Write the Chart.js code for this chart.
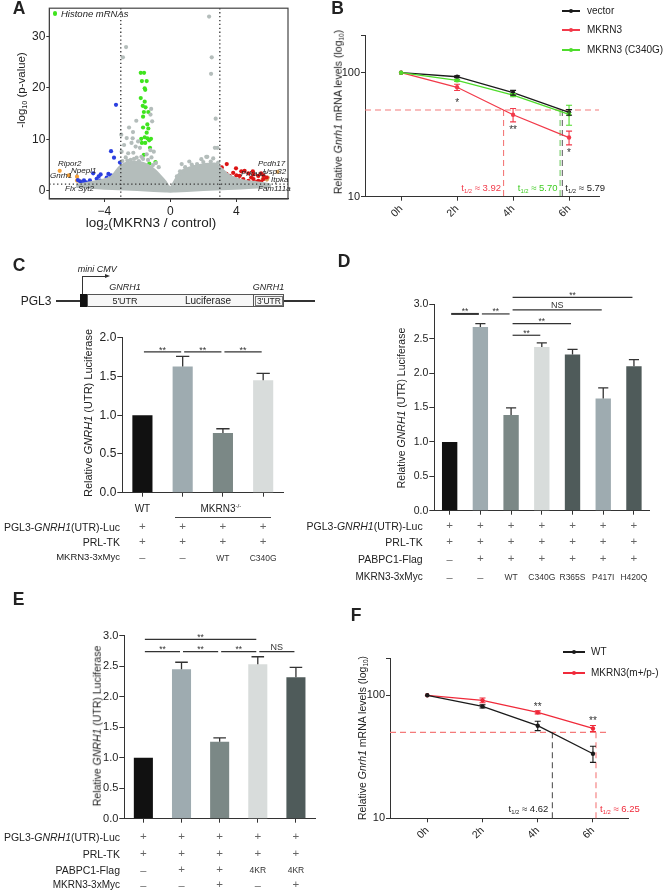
<!DOCTYPE html>
<html><head><meta charset="utf-8">
<script src="https://cdn.jsdelivr.net/npm/chart.js@4.4.1/dist/chart.umd.min.js"></script>
<style>
html,body{margin:0;padding:0;background:#fff;}
#root{position:relative;width:663px;height:890px;overflow:hidden;font-family:"Liberation Sans",Arial,Helvetica,sans-serif;color:#222;}
#root canvas{position:absolute;left:0;top:0;}
.t{position:absolute;white-space:nowrap;line-height:1;z-index:3;}
.s{font-size:0.62em;line-height:0;vertical-align:-0.3em;}
.u{font-size:0.62em;line-height:0;vertical-align:0.6em;}
.bx{position:absolute;box-sizing:border-box;z-index:2;}
</style></head>
<body><div id="root"></div>
<script>
// ================= DATA =================
// Panel A - volcano plot (x = log2 fold change, y = -log10 p)
const volcanoCloudUpper = [[-5.7,1.1],[-4.8,1.6],[-3.6,2.6],[-3.0,4.8],[-2.4,5.5],[-1.6,5.3],[-0.95,4.0],[-0.35,1.9],[0,0.6],[0.3,2.0],[0.7,3.8],[1.7,4.9],[2.7,5.2],[3.0,4.5],[3.6,2.9],[4.5,1.9],[5.5,1.5],[6.0,1.2]];
const volcanoCloudLower = [[6.0,0.9],[5.0,0.7],[3.5,0.45],[2.0,0.25],[1.0,0.1],[0.3,0],[0,-0.05],[-0.3,0],[-1.0,0.1],[-2.0,0.25],[-3.5,0.45],[-5.0,0.7],[-5.7,0.9]];
const volcanoGray = [[2.35,33.8],[-2.68,27.9],[-2.87,25.9],[2.51,25.9],[2.47,22.7],[2.75,14.0],[2.85,8.35],[-2.06,13.6],[-2.5,12.3],[-2.26,11.4],[-2.64,10.25],[-2.97,10.9],[-2.8,8.9],[-2.28,10.2],[-1.16,15.9],[-1.2,14.8],[-1.1,13.5],[-2.24,7.4],[-2.7,6.5],[-2.04,6.45],[-1.84,8.35],[-1.43,7.1],[-1.14,6.5],[-0.87,5.4],[-2.4,6.0],[-1.65,6.2],[-1.9,5.8],[-2.95,7.6],[-2.9,5.8],[-2.6,5.9],[-2.2,6.2],[-1.75,6.6],[-1.35,6.0],[-1.05,5.0],[-2.55,7.3],[-2.1,8.6],[-1.95,9.6],[-2.35,9.3],[-1.0,7.6],[-1.2,7.9],[-0.7,4.6],[0.59,3.8],[1.15,5.7],[1.62,5.2],[1.88,6.15],[2.18,6.6],[2.45,5.7],[2.6,6.3],[1.7,4.4],[2.1,4.9],[2.75,5.0],[0.69,5.2],[1.4,4.6],[2.7,8.35],[2.24,6.6],[0.9,4.6],[1.3,5.1],[2.0,5.6],[2.9,5.5],[2.3,4.8],[1.0,3.9],[0.4,2.8]];
const volcanoHistone = [[-1.79,22.9],[-1.59,22.9],[-1.72,21.3],[-1.43,21.3],[-1.55,19.9],[-1.52,19.6],[-1.79,18.0],[-1.55,17.3],[-1.67,16.5],[-1.5,16.2],[-1.33,15.3],[-1.6,15.3],[-1.65,14.4],[-1.39,12.9],[-1.65,12.3],[-1.33,12.1],[-1.43,11.3],[-1.55,10.4],[-1.39,10.2],[-1.76,10.1],[-1.17,10.1],[-1.72,9.3],[-1.52,9.3],[-1.28,9.8],[-1.23,8.35],[-0.9,5.6],[-1.27,5.3],[-1.6,7.0]];
const volcanoDown = [[-3.29,16.7],[-3.59,7.7],[-3.41,6.45],[-3.05,5.5],[-4.67,3.4],[-4.22,3.2],[-3.59,3.0],[-3.85,2.6],[-3.35,2.35],[-3.13,2.6],[-4.46,2.35],[-4.87,2.03],[-5.23,2.03],[-5.47,1.85],[-5.1,1.65],[-4.76,1.5],[-4.25,2.0],[-3.94,2.0],[-3.68,1.7],[-3.43,1.7],[-3.2,1.9],[-4.05,1.3],[-4.5,1.4],[-4.95,1.4],[-5.3,1.45],[-3.02,2.0],[-4.34,2.8],[-3.75,3.3],[-5.6,2.1],[-3.1,3.3]];
const volcanoUp = [[3.42,5.2],[3.12,4.55],[3.98,4.37],[4.3,3.8],[3.81,3.5],[3.12,3.4],[4.73,3.4],[3.6,2.9],[4.2,2.9],[5.04,3.2],[5.33,2.9],[5.64,3.0],[3.22,2.3],[3.52,2.15],[3.82,2.4],[4.12,2.15],[4.42,2.3],[4.73,1.95],[5.04,2.3],[5.33,1.95],[5.64,2.3],[5.84,2.6],[3.12,1.8],[3.42,1.7],[3.72,1.7],[4.02,1.55],[4.3,1.7],[4.6,1.6],[4.9,1.55],[5.2,1.7],[3.15,2.8],[3.4,3.3],[4.5,3.9],[5.0,3.8],[5.5,3.4],[4.9,2.6],[4.0,3.0],[3.3,1.45],[5.5,1.8]];
const volcanoDownLabeled = [[-6.7,3.9],[-6.15,3.0],[-5.65,2.75],[-5.65,2.0],[-5.45,1.8]];
const volcanoUpLabeled = [[6.5,3.7],[5.9,2.6],[5.75,2.45],[5.6,2.3],[5.85,2.2]];
const volcanoXTicks = [-4,0,4];
const volcanoYTicks = [0,10,20,30];
const volcanoFoldCut = 3;
const volcanoPCut = 1.3;

// Panel B - Gnrh1 mRNA decay
const timeHours = [0,2,4,6];
const bVector = [100,92.8,69,47.9];     const bVectorErr = [0,1.5,3,2.5];
const bMKRN3 = [100,76.3,45.8,30];      const bMKRN3Err = [0,4.5,5.7,3.8];
const bC340G = [100,86.7,66,46.2];      const bC340GErr = [0,1.5,2,8.5];
const bStars = ['','*','**','*'];
const bHalfLife = ['3.92','5.70','5.79'];
const bHalfCross = [3.66,5.68,5.76];
const logTicks = [10,100,200];

// Panel C
const cCategories = ['WT','KO','KO+WT','KO+C340G'];
const cValues = [1.0,1.63,0.77,1.45];
const cErr = [0,0.13,0.055,0.09];
const cTicks = [0,0.5,1,1.5,2];
const cSig = [[0,1,1.817,'**'],[1,2,1.817,'**'],[2,3,1.817,'**']];
const cRowLabels = ['PGL3-<i>GNRH1</i>(UTR)-Luc','PRL-TK','MKRN3-3xMyc'];
const cTable = [['+','+','+','+'],['+','+','+','+'],['–','–','WT','C340G']];

// Panel D
const dCategories = ['ctrl','PABPC1','WT','C340G','R365S','P417I','H420Q'];
const dValues = [1.0,2.67,1.39,2.38,2.27,1.63,2.10];
const dErr = [0,0.05,0.105,0.06,0.075,0.155,0.095];
const dTicks = [0,0.5,1,1.5,2,2.5,3];
const dSig = [[0,1,2.86,'**',2],[1,2,2.86,'**'],[2,6,3.10,'**'],[2,5,2.92,'NS'],[2,4,2.72,'**'],[2,3,2.55,'**']];
const dRowLabels = ['PGL3-<i>GNRH1</i>(UTR)-Luc','PRL-TK','PABPC1-Flag','MKRN3-3xMyc'];
const dTable = [['+','+','+','+','+','+','+'],['+','+','+','+','+','+','+'],['–','+','+','+','+','+','+'],['–','–','WT','C340G','R365S','P417I','H420Q']];

// Panel E
const eCategories = ['ctrl','PABPC1','PABPC1+MKRN3','4KR','4KR+MKRN3'];
const eValues = [1.0,2.45,1.26,2.53,2.32];
const eErr = [0,0.115,0.065,0.125,0.16];
const eTicks = [0,0.5,1,1.5,2,2.5,3];
const eSig = [[0,1,2.74,'**'],[1,2,2.74,'**'],[2,3,2.74,'**'],[3,4,2.74,'NS'],[0,3,2.94,'**']];
const eRowLabels = ['PGL3-<i>GNRH1</i>(UTR)-Luc','PRL-TK','PABPC1-Flag','MKRN3-3xMyc'];
const eTable = [['+','+','+','+','+'],['+','+','+','+','+'],['–','+','+','4KR','4KR'],['–','–','+','–','+']];

// Panel F
const fWT = [100,81.3,56.6,33.5];   const fWTErr = [0,2.5,5,5];
const fMut = [100,91,72.7,53.8];    const fMutErr = [0,4,2,3];
const fStars = ['','','**','**'];
const fHalfLife = ['4.62','6.25'];
const fHalfCross = [4.53,6.11];

const barColors5 = ['#111111','#9eabb0','#7b8886','#d8dcdb','#4f5b5a'];
const dColors = ['#111111','#9eabb0','#7b8886','#d8dcdb','#4f5b5a','#9eabb0','#4f5b5a'];

// ================= HELPERS =================
const W=663,H=890,AX='#333';
const root=document.getElementById('root');
Chart.defaults.font.family='"Liberation Sans", Arial, sans-serif';
Chart.defaults.color='#222';

function makeChart(cfg){const c=document.createElement('canvas');c.width=W;c.height=H;c.style.width=W+'px';c.style.height=H+'px';root.appendChild(c);return new Chart(c,cfg);}
function T(html,x,y,o={}){
  const d=document.createElement('div');d.className='t';d.innerHTML=html;
  d.style.fontSize=(o.size||10)+'px';
  if(o.color)d.style.color=o.color;
  if(o.bold)d.style.fontWeight='bold';
  if(o.italic)d.style.fontStyle='italic';
  d.style.left=x+'px';d.style.top=y+'px';
  const a=o.align||'center';
  const tx=a==='left'?'0':a==='right'?'-100%':'-50%';
  d.style.transform=o.rot?`translate(-50%,-50%) rotate(${o.rot}deg)`:`translate(${tx},-50%)`;
  root.appendChild(d);return d;
}
function B(x,y,w,h,css){const d=document.createElement('div');d.className='bx';d.style.cssText+=`left:${x}px;top:${y}px;width:${w}px;height:${h}px;`+css;root.appendChild(d);return d;}
function pts(a){return a.map(p=>({x:p[0],y:p[1]}));}
function base(L,T0,R,Bt,xh,scales){
  return {responsive:false,animation:false,devicePixelRatio:1,events:[],
    layout:{padding:{left:0,top:T0,right:W-R,bottom:H-Bt-xh}},
    plugins:{legend:{display:false},tooltip:{enabled:false}},scales};
}
function axisY(width,min,max,ticksArr,fmt,size,type,tickLen){
  return {type:type||'linear',position:'left',min,max,
    border:{display:true,color:AX,width:1},
    grid:{display:true,drawOnChartArea:false,drawTicks:true,tickLength:tickLen||5,color:AX,lineWidth:1},
    ticks:{autoSkip:false,padding:1,color:'#222',font:{size},callback:fmt},
    afterBuildTicks:s=>{s.ticks=ticksArr.map(v=>({value:v}));},
    afterFit:s=>{s.width=width;}};
}
function axisX(height,min,max,ticksArr,fmt,size,rot,tickLen){
  return {type:'linear',position:'bottom',min,max,
    border:{display:true,color:AX,width:1},
    grid:{display:true,drawOnChartArea:false,drawTicks:true,tickLength:tickLen||4,color:AX,lineWidth:1},
    ticks:{autoSkip:false,padding:2,color:'#222',font:{size},callback:fmt,minRotation:rot||0,maxRotation:rot||0},
    afterBuildTicks:s=>{s.ticks=ticksArr.map(v=>({value:v}));},
    afterFit:s=>{s.height=height;}};
}
function axisCat(height){
  return {type:'category',position:'bottom',offset:true,
    border:{display:true,color:AX,width:1},
    grid:{display:true,offset:false,drawOnChartArea:false,drawTicks:true,tickLength:4,color:AX,lineWidth:1},
    ticks:{autoSkip:false,callback:()=>'',font:{size:2}},
    afterFit:s=>{s.height=height;}};
}
function textAt(ctx,str,x,cy,size,color,kind){
  ctx.save();ctx.font=size+'px "Liberation Sans", Arial, sans-serif';ctx.fillStyle=color||'#333';ctx.textAlign='center';ctx.textBaseline='alphabetic';
  const k=kind==='star'?0.57:0.36;
  ctx.fillText(str,x,cy+k*size);ctx.restore();
}
const barErrPlugin=(errs)=>({id:'barerr',afterDatasetsDraw(chart){
  const ctx=chart.ctx,meta=chart.getDatasetMeta(0),ys=chart.scales.y,vals=chart.data.datasets[0].data;
  ctx.save();ctx.strokeStyle='#333';ctx.lineWidth=1.3;
  meta.data.forEach((bar,i)=>{const e=errs[i];if(!e)return;
    const yt=ys.getPixelForValue(vals[i]+e),yb=ys.getPixelForValue(vals[i]);const cw=bar.width*0.33;
    ctx.beginPath();ctx.moveTo(bar.x,yb);ctx.lineTo(bar.x,yt);ctx.moveTo(bar.x-cw,yt);ctx.lineTo(bar.x+cw,yt);ctx.stroke();});
  ctx.restore();}});
const sigPlugin=(sigs,size)=>({id:'sig',afterDraw(chart){
  const ctx=chart.ctx,xs=chart.scales.x,ys=chart.scales.y;
  sigs.forEach(([a,b,v,lab,lw])=>{
    const x1=xs.getPixelForValue(a)+1.5,x2=xs.getPixelForValue(b)-1.5,y=ys.getPixelForValue(v);
    ctx.save();ctx.strokeStyle='#333';ctx.lineWidth=lw||1.2;ctx.beginPath();ctx.moveTo(x1,y);ctx.lineTo(x2,y);ctx.stroke();ctx.restore();
    if(lab==='NS')textAt(ctx,lab,(x1+x2)/2,y-5,size+0.5,'#333','cap');else textAt(ctx,lab,(x1+x2)/2,y-4.5,size,'#333','star');
  });}});
const lineErrPlugin=(sets)=>({id:'lerr',afterDatasetsDraw(chart){
  const ctx=chart.ctx,xs=chart.scales.x,ys=chart.scales.y;
  sets.forEach(({ds,err,color})=>{const data=chart.data.datasets[ds].data;
    ctx.save();ctx.strokeStyle=color;ctx.lineWidth=1.1;
    data.forEach((p,i)=>{const e=err[i];if(!e)return;
      const x=xs.getPixelForValue(p.x),y1=ys.getPixelForValue(p.y+e),y2=ys.getPixelForValue(p.y-e);
      ctx.beginPath();ctx.moveTo(x,y1);ctx.lineTo(x,y2);ctx.moveTo(x-3,y1);ctx.lineTo(x+3,y1);ctx.moveTo(x-3,y2);ctx.lineTo(x+3,y2);ctx.stroke();});
    ctx.restore();});}});
function lineDS(vals,color){return {data:timeHours.map((h,i)=>({x:h,y:vals[i]})),showLine:true,borderColor:color,backgroundColor:color,borderWidth:1.3,pointRadius:2.2,pointBorderWidth:0};}

// ================= PANEL A =================
const GRAY='#b4bdbb';
const cloud=volcanoCloudUpper.concat(volcanoCloudLower);
const volcanoPlugin={id:'volc',afterDatasetsDraw(chart){
  const ctx=chart.ctx,a=chart.chartArea,xs=chart.scales.x,ys=chart.scales.y;
  ctx.save();ctx.strokeStyle='#333';ctx.lineWidth=1.3;ctx.setLineDash([1.3,2.6]);
  [-volcanoFoldCut,volcanoFoldCut].forEach(v=>{const x=xs.getPixelForValue(v);ctx.beginPath();ctx.moveTo(x,a.top);ctx.lineTo(x,a.bottom);ctx.stroke();});
  const y=ys.getPixelForValue(volcanoPCut);ctx.beginPath();ctx.moveTo(a.left,y);ctx.lineTo(a.right,y);ctx.stroke();
  ctx.restore();
  ctx.save();ctx.strokeStyle='#444';ctx.lineWidth=1.2;ctx.strokeRect(a.left,a.top,a.right-a.left,a.bottom-a.top);ctx.restore();
}};
const chartA=makeChart({type:'scatter',data:{datasets:[
  {type:'line',data:pts(cloud),showLine:true,fill:'shape',backgroundColor:GRAY,borderColor:GRAY,borderWidth:3,pointRadius:0,tension:0.3},
  {data:pts(volcanoGray),backgroundColor:GRAY,pointRadius:2.1,pointBorderWidth:0},
  {data:pts(volcanoHistone),backgroundColor:'#3fe41e',pointRadius:2.1,pointBorderWidth:0},
  {data:pts(volcanoDown),backgroundColor:'#2b3fe0',pointRadius:2.1,pointBorderWidth:0},
  {data:pts(volcanoUp),backgroundColor:'#dc1414',pointRadius:2.1,pointBorderWidth:0},
  {data:pts(volcanoDownLabeled),backgroundColor:'#f5a13a',pointRadius:2.1,pointBorderWidth:0},
  {data:pts(volcanoUpLabeled),backgroundColor:'#d4a05c',pointRadius:2.1,pointBorderWidth:0}
]},options:base(49.3,4,288,199,22,{
  x:axisX(22,-7.33,7.13,volcanoXTicks,v=>String(v).replace('-','−'),12,0,3),
  y:axisY(49.3,-1.57,35.43,volcanoYTicks,v=>String(v),12,'linear',3)
}),plugins:[volcanoPlugin]});

// ================= PANEL B =================
const bGuide={id:'bguide',beforeDatasetsDraw(chart){
  const ctx=chart.ctx,a=chart.chartArea,xs=chart.scales.x,ys=chart.scales.y,y50=ys.getPixelForValue(50);
  ctx.save();ctx.lineWidth=1.1;ctx.setLineDash([6,4]);
  ctx.strokeStyle='#f47a7a';ctx.beginPath();ctx.moveTo(a.left,y50);ctx.lineTo(a.right,y50);ctx.stroke();
  const cols=['#f47a7a','#74cc66','#666'];
  bHalfCross.forEach((h,i)=>{const x=xs.getPixelForValue(h);ctx.strokeStyle=cols[i];ctx.beginPath();ctx.moveTo(x,y50);ctx.lineTo(x,a.bottom);ctx.stroke();});
  ctx.restore();},
  afterDraw(chart){const ys=chart.scales.y,xs=chart.scales.x;
    bStars.forEach((s,i)=>{if(!s)return;textAt(chart.ctx,s,xs.getPixelForValue(timeHours[i]),ys.getPixelForValue(bMKRN3[i])+13,10,'#333','star');});}};
const chartB=makeChart({type:'scatter',data:{datasets:[lineDS(bC340G,'#4fdc2c'),lineDS(bMKRN3,'#f23a4a'),lineDS(bVector,'#1b1b1b')]},
  options:base(365,35.4,599,196.7,32,{
    x:axisX(32,-1.29,7.07,timeHours,v=>v+'h',10.5,45,4),
    y:axisY(365,10,200,logTicks,v=>(v===10||v===100)?String(v):'',11,'logarithmic',4)}),
  plugins:[bGuide,lineErrPlugin([{ds:0,err:bC340GErr,color:'#4fdc2c'},{ds:1,err:bMKRN3Err,color:'#f23a4a'},{ds:2,err:bVectorErr,color:'#1b1b1b'}])]});

// ================= PANEL C =================
const chartC=makeChart({type:'bar',data:{labels:cCategories,datasets:[{data:cValues,backgroundColor:barColors5.slice(0,4),barPercentage:0.5,categoryPercentage:1,borderWidth:0}]},
  options:base(122.3,337.7,283.3,492.7,10,{x:axisCat(10),y:axisY(122.3,0,2,cTicks,v=>v.toFixed(1),12,'linear',5)}),
  plugins:[barErrPlugin(cErr),sigPlugin(cSig,9)]});

// ================= PANEL D =================
const chartD=makeChart({type:'bar',data:{labels:dCategories,datasets:[{data:dValues,backgroundColor:dColors,barPercentage:0.5,categoryPercentage:1,borderWidth:0}]},
  options:base(434.3,304.3,649.3,510.7,10,{x:axisCat(10),y:axisY(434.3,0,3,dTicks,v=>v.toFixed(1),10.5,'linear',5)}),
  plugins:[barErrPlugin(dErr),sigPlugin(dSig,8.5)]});

// ================= PANEL E =================
const chartE=makeChart({type:'bar',data:{labels:eCategories,datasets:[{data:eValues,backgroundColor:barColors5,barPercentage:0.5,categoryPercentage:1,borderWidth:0}]},
  options:base(124.3,635.7,315,818.7,10,{x:axisCat(10),y:axisY(124.3,0,3,eTicks,v=>v.toFixed(1),11,'linear',5)}),
  plugins:[barErrPlugin(eErr),sigPlugin(eSig,8.5)]});

// ================= PANEL F =================
const fGuide={id:'fguide',beforeDatasetsDraw(chart){
  const ctx=chart.ctx,a=chart.chartArea,xs=chart.scales.x,ys=chart.scales.y,y50=ys.getPixelForValue(50);
  ctx.save();ctx.lineWidth=1.1;ctx.setLineDash([6,4]);
  ctx.strokeStyle='#f47a7a';ctx.beginPath();ctx.moveTo(a.left,y50);ctx.lineTo(xs.getPixelForValue(6.6),y50);ctx.stroke();
  const cols=['#555','#f47a7a'];
  fHalfCross.forEach((h,i)=>{const x=xs.getPixelForValue(h);ctx.strokeStyle=cols[i];ctx.beginPath();ctx.moveTo(x,y50);ctx.lineTo(x,a.bottom);ctx.stroke();});
  ctx.restore();},
  afterDraw(chart){const ys=chart.scales.y,xs=chart.scales.x;
    fStars.forEach((s,i)=>{if(!s)return;textAt(chart.ctx,s,xs.getPixelForValue(timeHours[i]),ys.getPixelForValue(fMut[i]+fMutErr[i])-7,10,'#333','star');});}};
const chartF=makeChart({type:'scatter',data:{datasets:[lineDS(fWT,'#1b1b1b'),lineDS(fMut,'#f02a3a')]},
  options:base(390,658.3,628.3,818.3,32,{
    x:axisX(32,-1.35,7.28,timeHours,v=>v+'h',10.5,45,4),
    y:axisY(390,10,200,logTicks,v=>(v===10||v===100)?String(v):'',11,'logarithmic',4)}),
  plugins:[fGuide,lineErrPlugin([{ds:0,err:fWTErr,color:'#1b1b1b'},{ds:1,err:fMutErr,color:'#f02a3a'}])]});

// ================= TEXT / ANNOTATIONS =================
const L={size:17.5,bold:true};
T('A',19,8.5,L);T('B',337.5,8.5,L);T('C',19,265.5,L);T('D',344,261.5,L);T('E',18.5,599.5,L);T('F',356,615.5,L);

// A
B(52.8,11.4,4.6,4.6,'border-radius:50%;background:#3fe41e;');
T('Histone mRNAs',61,13.7,{size:9.5,italic:true,align:'left'});
T('-log<span class="s">10</span> (p-value)',22,90,{size:11.5,rot:-90});
T('log<span class="s">2</span>(MKRN3 / control)',151,223,{size:13.5});
[['Ripor2',58,163.5],['Gnrh1',50,176],['Npepl1',71,171],['Flx Syt2',65,189],['Pcdh17',258,163.5],['Usp32',263,172],['Prkaa2',241,174],['Itpka',271,180],['Fam111a',258,189]]
  .forEach(([s,x,y])=>T(s,x,y,{size:8,italic:true,align:'left'}));

// B
T('Relative <i>Gnrh1</i> mRNA levels (log<span class="s">10</span>)',338,112,{size:10.5,rot:-90});
[['vector','#1b1b1b',11],['MKRN3','#f23a4a',30],['MKRN3 (C340G)','#4fdc2c',50]].forEach(([s,c,y])=>{
  B(562,y-0.7,18,1.5,'background:'+c);B(569,y-2.2,4.4,4.4,'border-radius:50%;background:'+c);
  T(s,587,y,{size:10,align:'left'});});
(function(){const xs=chartB.scales.x;const cols=['#f23a4a','#3fcc22','#222'];
  bHalfCross.forEach((h,i)=>{const x=xs.getPixelForValue(h);const html='t<span class="s">1/2</span> ≈ '+bHalfLife[i];
    if(i<2)T(html,x-2.5,188,{size:9.5,color:cols[i],align:'right'});else T(html,x+3,188,{size:9.5,color:cols[i],align:'left'});});})();

// C diagram
B(55.7,300,24.3,1.5,'background:#333;');
B(80,294,7,13,'background:#111;');
B(87,294,77,13,'border:1px solid #555;background:#f7f7f7;');
B(163,294,91,13,'border:1px solid #555;border-left:none;background:#f7f7f7;');
B(253.3,294,31,13,'border:1px solid #555;background:#f7f7f7;');
B(255,295.5,28,10,'border:1px solid #777;');
B(284.3,300,30.7,1.5,'background:#333;');
B(82.2,277,1.3,17,'background:#333;');
B(82.2,276.2,23,1.3,'background:#333;');
(function(){const d=document.createElement('div');d.className='bx';d.style.cssText+='left:105px;top:274px;width:0;height:0;border-left:5px solid #333;border-top:2.9px solid transparent;border-bottom:2.9px solid transparent;';root.appendChild(d);})();
T('mini CMV',77.7,268.7,{size:9,italic:true,align:'left'});
T('GNRH1',125,286.7,{size:9,italic:true});T('GNRH1',268.5,286.7,{size:9,italic:true});
T('PGL3',20.7,300.7,{size:12,align:'left'});
T("5'UTR",125,300.9,{size:9});T('Luciferase',208,300.9,{size:10});T("3'UTR",269,300.9,{size:8.5});
T('Relative <i>GNRH1</i> (UTR) Luciferase',88,413,{size:11,rot:-90});

function table(chart,rowLabels,rows,labelRight,rowYs,labelSizes){
  const xs=chart.scales.x;
  rowLabels.forEach((s,r)=>{T(s,labelRight,rowYs[r],{size:labelSizes[r],align:'right'});
    rows[r].forEach((v,i)=>{const x=xs.getPixelForValue(i);
      if(v==='+')T('+',x,rowYs[r],{size:11.5,color:'#666'});
      else if(v==='–')T('–',x,rowYs[r],{size:11,color:'#666'});
      else T(v,x,rowYs[r]+0.5,{size:8.5,color:'#333'});});});
}
(function(){const xs=chartC.scales.x;
  T('WT',xs.getPixelForValue(0),509,{size:10});
  const x1=xs.getPixelForValue(1),x3=xs.getPixelForValue(3);
  T('MKRN3<span class="u">-/-</span>',(x1+x3)/2-2,508.5,{size:10});
  B(x1-8,516.7,x3-x1+16,1.2,'background:#444;');})();
table(chartC,cRowLabels,cTable,120,[526.7,541.7,557.3],[10.5,10.5,9.5]);

// D
T('Relative <i>GNRH1</i> (UTR) Luciferase',401,408,{size:10.5,rot:-90});
table(chartD,dRowLabels,dTable,422.7,[525.7,542.3,559,576.7],[10.5,10.5,10.5,10]);

// E
T('Relative <i>GNRH1</i> (UTR) Luciferase',97,726,{size:10.5,rot:-90});
table(chartE,eRowLabels,eTable,120,[837.3,854,869.5,885],[10.5,10.5,10.5,10]);

// F
T('Relative <i>Gnrh1</i> mRNA levels (log<span class="s">10</span>)',361.5,738,{size:10.5,rot:-90});
[['WT','#1b1b1b',651.7],['MKRN3(m+/p-)','#f02a3a',672.7]].forEach(([s,c,y])=>{
  B(563,y-0.7,22,1.5,'background:'+c);B(571.8,y-2.2,4.4,4.4,'border-radius:50%;background:'+c);
  T(s,591,y,{size:10,align:'left'});});
(function(){const xs=chartF.scales.x;
  const x0=xs.getPixelForValue(fHalfCross[0]),x1=xs.getPixelForValue(fHalfCross[1]);
  T('t<span class="s">1/2</span> ≈ '+fHalfLife[0],x0-4,809.3,{size:9.5,color:'#222',align:'right'});
  T('t<span class="s">1/2</span> ≈ '+fHalfLife[1],x1+4,809.3,{size:9.5,color:'#f02a3a',align:'left'});})();
</script></body></html>
